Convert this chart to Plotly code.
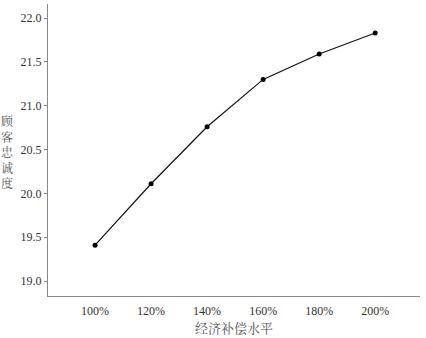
import plotly.graph_objects as go

categories = ["100%", "120%", "140%", "160%", "180%", "200%"]
loyalty = [19.41, 20.11, 20.76, 21.30, 21.59, 21.83]
y_ticks = [19.0, 19.5, 20.0, 20.5, 21.0, 21.5, 22.0]
x_title = "经济补偿水平"
y_title = "顾客忠诚度"

xpos = list(range(len(categories)))
font_fam = "Liberation Serif, Noto Serif CJK SC, Noto Sans CJK SC, serif"

fig = go.Figure()
fig.add_trace(go.Scatter(
    x=xpos, y=loyalty, mode="lines+markers",
    line=dict(color="#111111", width=1.2),
    marker=dict(color="#000000", size=5),
    showlegend=False,
))

fig.update_layout(
    width=426, height=338,
    margin=dict(l=48, r=6, t=4, b=40),
    paper_bgcolor="white", plot_bgcolor="white",
    font=dict(family=font_fam, size=12, color="#333333"),
    xaxis=dict(
        tickmode="array", tickvals=xpos, ticktext=categories,
        range=[-0.84, 5.8], showgrid=False, zeroline=False,
        showline=True, linecolor="#888888", linewidth=1,
        ticks="outside", ticklen=4, tickcolor="rgba(0,0,0,0)",
        title=dict(text=x_title, font=dict(size=13, color="#555555"), standoff=6),
    ),
    yaxis=dict(
        tickmode="array", tickvals=y_ticks,
        ticktext=[f"{v:.1f}" for v in y_ticks],
        range=[18.83, 22.16], showgrid=False, zeroline=False,
        showline=True, linecolor="#888888", linewidth=1,
        ticks="outside", ticklen=3, tickcolor="#888888",
    ),
)

fig.add_annotation(
    text="<br>".join(list(y_title)),
    xref="paper", yref="paper", x=-0.11, y=0.49,
    xanchor="center", yanchor="middle", showarrow=False,
    font=dict(size=12, color="#555555", family=font_fam),
)

fig.write_html("out.html", post_script="document.body.style.margin='0px';",
               config={"displayModeBar": False})
